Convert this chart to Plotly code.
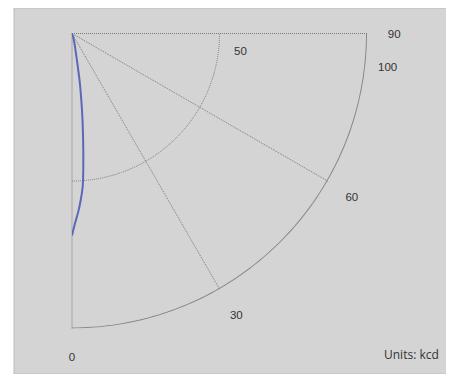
import math
import plotly.graph_objects as go

# beam profile: angle from nadir (deg) vs intensity (kcd)
angles = [0, 1, 2, 3, 4, 5, 6, 7, 8, 9, 10, 12, 14, 16, 18, 20]
intensity = [68.5, 64, 60.5, 56.5, 52, 44, 36, 29, 22.5, 17, 11, 5.5, 3.5, 2, 1, 0]

angle_ticks = [0, 30, 60, 90]
radial_ticks = [50, 100]
units_label = "Units: kcd"

r_max = radial_ticks[-1]
grid_col = '#7a7a7a'
dom_x = [0.1318, 0.8023]
dom_y = [0.1243, 0.9303]
label_font = dict(family='Liberation Sans, Arial', size=11.5, color='#333333')


def polar_to_paper(r, theta):
    # centre of the quarter sector sits at the top-left corner of the domain
    a = math.radians(theta)
    return (dom_x[0] + r / r_max * math.sin(a) * (dom_x[1] - dom_x[0]),
            dom_y[1] - r / r_max * math.cos(a) * (dom_y[1] - dom_y[0]))


fig = go.Figure()
# outer solid arc
arc_theta = list(range(angle_ticks[0], angle_ticks[-1] + 1))
fig.add_trace(go.Scatterpolar(r=[r_max] * len(arc_theta), theta=arc_theta, mode='lines',
                              line=dict(color='#858585', width=2),
                              showlegend=False, hoverinfo='skip'))
fig.add_trace(go.Scatterpolar(r=intensity, theta=angles, mode='lines',
                              line=dict(color='#5b68b8', width=2, shape='spline'),
                              showlegend=False, hoverinfo='skip'))

annotations = []
for t in radial_ticks:
    x, y = polar_to_paper(t + 7.5, 84)
    annotations.append(dict(text=str(t), xref='paper', yref='paper', x=x, y=y,
                            xanchor='center', yanchor='middle',
                            showarrow=False, font=label_font))
annotations.append(dict(text=units_label, xref='paper', yref='paper', x=0.97, y=0.0546,
                        xanchor='right', yanchor='middle', showarrow=False,
                        font=dict(family='Open Sans', size=12, color='#333333')))

fig.update_layout(
    width=446, height=366,
    margin=dict(l=6, r=0, t=0, b=0),
    paper_bgcolor='white',
    shapes=[dict(type='rect', xref='paper', yref='paper', x0=0, x1=1, y0=0, y1=1,
                 fillcolor='#d4d4d4', line=dict(color='#bcbcbc', width=1), layer='below')],
    polar=dict(
        domain=dict(x=dom_x, y=dom_y),
        sector=[270, 360],
        bgcolor='rgba(0,0,0,0)',
        # with rotation 270 plotly counts the sector's ticks from 360 upwards
        angularaxis=dict(rotation=270, direction='counterclockwise',
                         tickmode='array', tickvals=[a + 360 for a in angle_ticks],
                         ticktext=[str(a) for a in angle_ticks],
                         showticklabels=True, tickfont=label_font,
                         ticks='outside', ticklen=18, tickcolor='rgba(0,0,0,0)',
                         showline=False,
                         gridcolor=grid_col, griddash='1px,1px', gridwidth=1),
        radialaxis=dict(range=[0, r_max], tickmode='array', tickvals=radial_ticks,
                        showticklabels=False, showline=False, ticks='',
                        gridcolor=grid_col, griddash='1px,1px', gridwidth=1),
    ),
    annotations=annotations,
)

fig.write_html("out.html")
